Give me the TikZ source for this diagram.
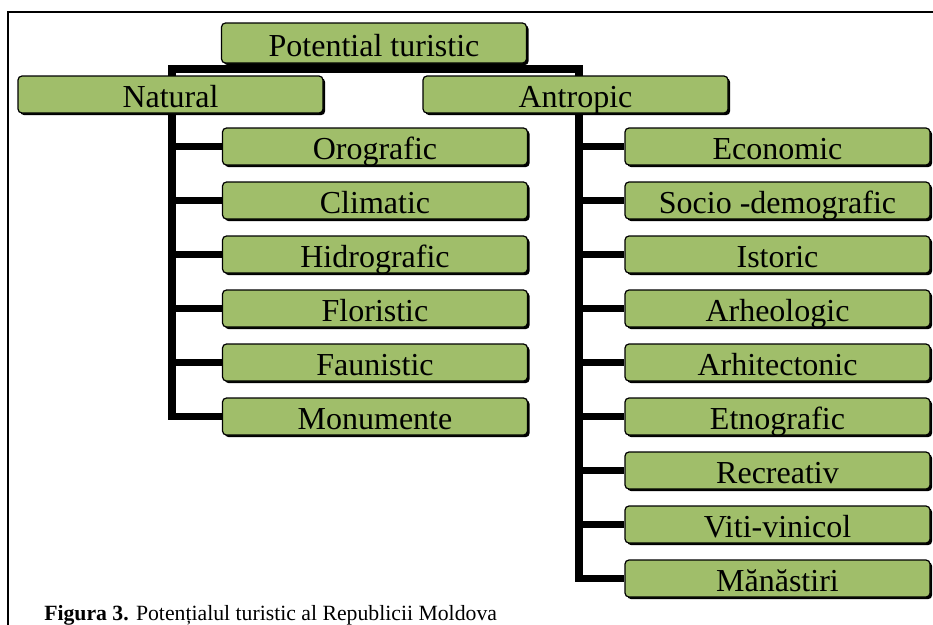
\documentclass[tikz,border=0pt]{standalone}
\usepackage{fontspec}
\setmainfont{Liberation Serif}
\usetikzlibrary{shadows}
\definecolor{boxgreen}{RGB}{160,190,106}
\pgfdeclarelayer{bg}
\pgfsetlayers{bg,main}
\begin{document}
\begin{tikzpicture}[x=0.75pt,y=-0.75pt,
  gbox/.style={draw=black,line width=0.9pt,fill=boxgreen,rounded corners=3pt,
    minimum width=228.75pt,inner sep=0pt,text height=23.25pt,text depth=4.5pt,
    font=\fontsize{24pt}{26pt}\selectfont,
    general shadow={fill=black,shadow xshift=1.6pt,shadow yshift=-1.6pt}},
  conn/.style={line width=5.5pt,black}]
\useasboundingbox (0,0) rectangle (933,625);
% frame
\draw[line width=1.4pt] (934,12) -- (8,12) -- (8,626);
% nodes
\node[gbox,text height=24.75pt,text depth=5.25pt] (pot) at (374,43) {Potential turistic};
\node[gbox] (nat) at (170.5,94.5) {Natural};
\node[gbox] (ant) at (575.5,94.5) {Antropic};
\foreach \n/\t [count=\i from 0] in {oro/Orografic,cli/Climatic,hid/Hidrografic,flo/Floristic,fau/Faunistic,mon/Monumente}
  \node[gbox] (\n) at (375,146.5+54*\i) {\t};
\foreach \n/\t [count=\i from 0] in {eco/Economic,soc/Socio -demografic,ist/Istoric,arh/Arheologic,arc/Arhitectonic,etn/Etnografic,rec/Recreativ,vit/Viti-vinicol,man/Mănăstiri}
  \node[gbox] (\n) at (777.5,146.5+54*\i) {\t};
% caption
\node[anchor=base west,inner sep=0pt,font=\fontsize{16.3pt}{18pt}\selectfont] (cap) at (44,620)
  {\textbf{Figura 3.} Potențialul turistic al Republicii Moldova};
% connectors
\coordinate (bl) at (172,69);
\coordinate (br) at (579,69);
\begin{pgfonlayer}{bg}
\draw[conn] (pot.south) -- (pot.south |- bl);
\draw[conn] (bl |- nat.north) -- (bl) -- (br) -- (br |- ant.north);
\draw[conn] (bl) |- (mon.west);
\foreach \n in {oro,cli,hid,flo,fau}
  \draw[conn] (bl |- \n.west) -- (\n.west);
\draw[conn] (br) |- (man.west);
\foreach \n in {eco,soc,ist,arh,arc,etn,rec,vit}
  \draw[conn] (br |- \n.west) -- (\n.west);
\end{pgfonlayer}
\end{tikzpicture}
\end{document}
